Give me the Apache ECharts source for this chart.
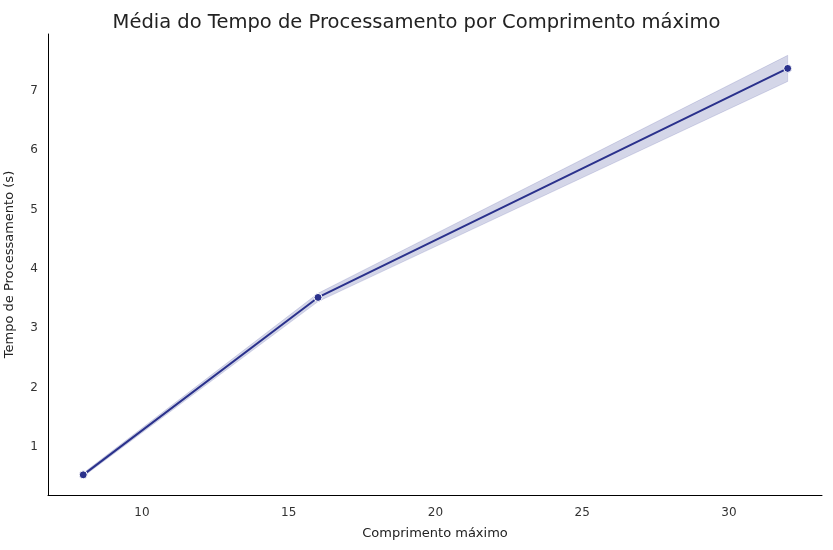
<!DOCTYPE html>
<html>
<head>
<meta charset="utf-8">
<script src="https://cdn.jsdelivr.net/npm/echarts@6/dist/echarts.min.js"></script>
<style>html,body{margin:0;padding:0;background:#fff}#main{width:833px;height:550px}</style>
</head>
<body>
<div id="main"></div>
<script>
var xValues = [8, 16, 32];
var meanTime = [0.53, 3.52, 7.38];
var lowerCI = [0.50, 3.45, 7.16];
var upperCI = [0.56, 3.59, 7.60];
var xTicks = [10, 15, 20, 25, 30];
var yTicks = [1, 2, 3, 4, 5, 6, 7];

var myChart = echarts.init(document.getElementById('main'));
var font = 'DejaVu Sans';

function pairs(vals) {
	return xValues.map(function (x, i) { return [x, vals[i]]; });
}

myChart.setOption({
	animation: false,
	textStyle: { fontFamily: font },
	title: {
		text: 'Média do Tempo de Processamento por Comprimento máximo',
		left: 'center',
		top: 8,
		textStyle: { fontSize: 19.5, fontWeight: 'normal', color: '#222', fontFamily: font }
	},
	grid: { left: 48, right: 11, top: 34, bottom: 55, containLabel: false, outerBoundsMode: 'none' },
	xAxis: {
		type: 'value',
		min: 6.8, max: 33.17,
		name: 'Comprimento máximo',
		nameLocation: 'middle', nameGap: 32,
		nameTextStyle: { fontSize: 13, color: '#222' },
		axisLine: { lineStyle: { color: '#000' } },
		axisTick: { show: false },
		splitLine: { show: false },
		axisLabel: { color: '#333', fontSize: 12, margin: 12, customValues: xTicks }
	},
	yAxis: {
		type: 'value',
		min: 0.19, max: 7.96,
		name: 'Tempo de Processamento (s)',
		nameLocation: 'middle', nameGap: 32,
		nameTextStyle: { fontSize: 13, color: '#222' },
		axisLine: { show: true, lineStyle: { color: '#000' } },
		axisTick: { show: false },
		splitLine: { show: false },
		axisLabel: { color: '#333', fontSize: 12, margin: 10, customValues: yTicks }
	},
	series: [
		{
			type: 'custom',
			silent: true,
			data: [0],
			renderItem: function (params, api) {
				var pts = [];
				for (var i = 0; i < xValues.length; i++) pts.push(api.coord([xValues[i], upperCI[i]]));
				for (var j = xValues.length - 1; j >= 0; j--) pts.push(api.coord([xValues[j], lowerCI[j]]));
				return {
					type: 'polygon',
					shape: { points: pts },
					style: { fill: 'rgba(42,49,140,0.2)', stroke: 'rgba(42,49,140,0.15)', lineWidth: 1 }
				};
			}
		},
		{
			type: 'line', data: pairs(meanTime),
			symbol: 'circle', symbolSize: 8,
			itemStyle: { color: '#2a318c', borderColor: '#fff', borderWidth: 1 },
			lineStyle: { color: '#2a318c', width: 2 }
		}
	]
});
</script>
</body>
</html>
